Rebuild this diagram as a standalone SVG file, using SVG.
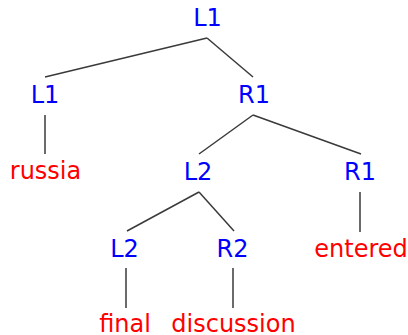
<svg xmlns="http://www.w3.org/2000/svg" width="408" height="335" viewBox="0 0 408 335">
<style>
text{font-family:"DejaVu Sans",sans-serif;font-size:24px;text-anchor:middle}
.n{fill:#0000ff}
.w{fill:#ff0000}
#edges line{stroke:#3a3a3a;stroke-width:1.5}
</style>
<rect width="408" height="335" fill="#ffffff"/>
<g id="edges">
<line x1="207" y1="38" x2="45" y2="77"/>
<line x1="207" y1="38" x2="253" y2="77"/>
<line x1="45" y1="115" x2="45" y2="154"/>
<line x1="253" y1="115" x2="199" y2="154"/>
<line x1="253" y1="115" x2="361" y2="154"/>
<line x1="199" y1="192" x2="127" y2="231"/>
<line x1="199" y1="192" x2="234" y2="231"/>
<line x1="360" y1="192" x2="360" y2="232"/>
<line x1="126" y1="268" x2="126" y2="308"/>
<line x1="233" y1="268" x2="233" y2="308"/>
</g>
<g id="n0"><text class="n" x="207.5" y="26">L1</text></g>
<g id="n1"><text class="n" x="45" y="103">L1</text></g>
<g id="n2"><text class="n" x="254" y="103">R1</text></g>
<g id="n3"><text class="w" x="45.5" y="179">russia</text></g>
<g id="n4"><text class="n" x="198" y="180">L2</text></g>
<g id="n5"><text class="n" x="360" y="180">R1</text></g>
<g id="n6"><text class="n" x="124.5" y="257">L2</text></g>
<g id="n7"><text class="n" x="232.5" y="257">R2</text></g>
<g id="n8"><text class="w" x="361" y="257">entered</text></g>
<g id="n9"><text class="w" x="125" y="332">final</text></g>
<g id="n10"><text class="w" x="233.5" y="332">discussion</text></g>
</svg>
